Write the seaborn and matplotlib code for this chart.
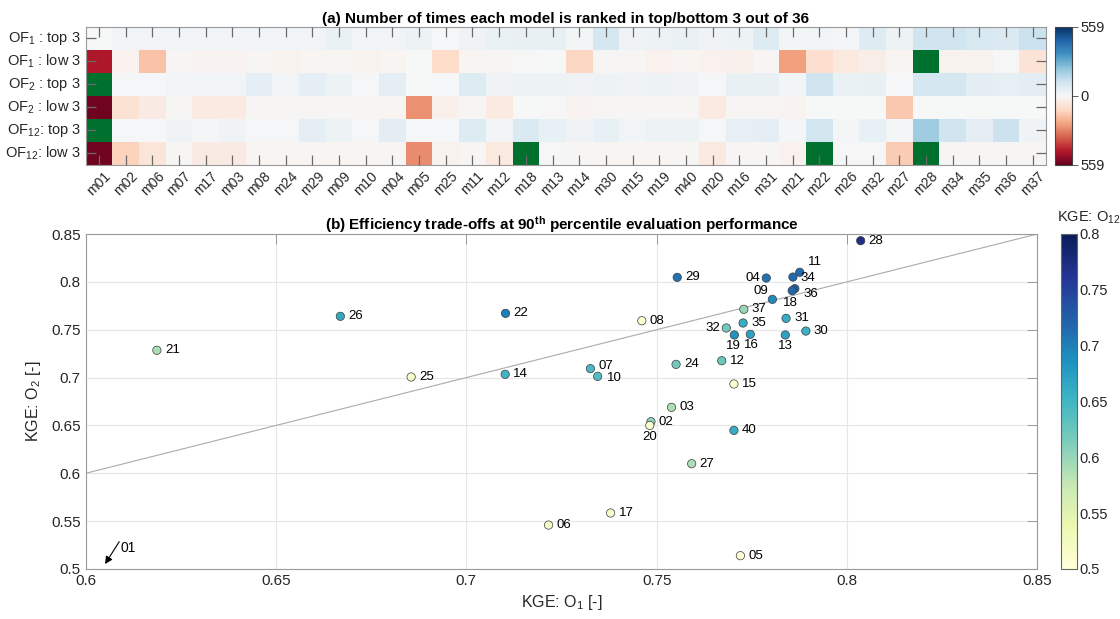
import numpy as np
import pandas as pd
import matplotlib
matplotlib.use("Agg")
import matplotlib.pyplot as plt
import seaborn as sns
from matplotlib.colors import Normalize
from matplotlib.cm import ScalarMappable
from matplotlib.ticker import FuncFormatter

# ---------------------------------------------------------------- data
models = ["m01", "m02", "m06", "m07", "m17", "m03", "m08", "m24", "m29", "m09",
          "m10", "m04", "m05", "m25", "m11", "m12", "m18", "m13", "m14", "m30",
          "m15", "m19", "m40", "m20", "m16", "m31", "m21", "m22", "m26", "m32",
          "m27", "m28", "m34", "m35", "m36", "m37"]

row_labels = [r"OF$_1$ : top 3", r"OF$_1$ : low 3",
              r"OF$_2$ : top 3", r"OF$_2$ : low 3",
              r"OF$_{12}$: top 3", r"OF$_{12}$: low 3"]

nan = np.nan
# counts of top-3 rankings (positive) and bottom-3 rankings (negative);
# NaN marks the highlighted cells
of1_top = [0, 20, 20, 20, 20, 20, 20, 20, 20, 35, 20, 20, 30, 5, 25, 35, 40, 40,
           15, 100, 25, 30, 35, 25, 30, 75, 15, 18, 10, 75, 30, 110, 110, 95, 85, 120]
of1_low = [-450, -25, -165, -5, -15, -15, -8, -20, -12, -12, -20, -12, 0, -105, -10,
           -5, -3, 0, -120, -5, -5, -22, -12, -22, -28, -5, -230, -95, -55, -35, -12,
           nan, -20, -20, -3, -75]
of2_top = [nan, 8, 8, 18, 18, 18, 55, 18, 55, 30, 8, 55, 0, 8, 75, 25, 30, 30, 25,
           30, 25, 30, 25, 8, 40, 42, 15, 110, 35, 42, 8, 100, 100, 60, 50, 60]
of2_low = [-545, -85, -45, -5, -50, -50, -8, -8, -8, -8, -12, -10, -255, -30, -5,
           -50, 0, -2, -15, -8, -8, -8, -5, -50, -5, -5, -15, 0, 0, 0, -150, 0, 0,
           0, 0, 0]
of12_top = [nan, 8, 8, 22, 12, 22, 8, 8, 55, 30, 8, 60, 5, 8, 75, 15, 85, 45, 25,
            45, 18, 30, 30, 8, 50, 55, 10, 105, 10, 45, 10, 200, 110, 55, 120, 22]
of12_low = [-545, -130, -70, -5, -48, -48, -12, -12, -10, -10, -12, -8, -265, -18,
            -5, -55, nan, -3, -8, -12, -12, -12, -8, -55, -8, -5, -22, nan, -3, -3,
            -140, nan, -5, -5, -5, -5]
rank_limit = 559

# efficiency trade-offs (KGE on O1, O2 and O12)
point_ids = ["21", "26", "22", "25", "14", "06", "07", "10", "24", "12", "15", "03",
             "02", "20", "40", "27", "17", "05", "29", "04", "34", "11", "36", "09",
             "18", "37", "31", "35", "32", "30", "19", "16", "13", "08", "28"]
kge_o1 = [0.6187, 0.6669, 0.7103, 0.6855, 0.7102, 0.7216, 0.7326, 0.7345, 0.7551,
          0.7671, 0.7703, 0.7539, 0.7485, 0.7482, 0.7703, 0.7592, 0.7379, 0.7720,
          0.7554, 0.7788, 0.7858, 0.7876, 0.7863, 0.7856, 0.7804, 0.7729, 0.7840,
          0.7727, 0.7683, 0.7892, 0.7704, 0.7746, 0.7838, 0.7461, 0.8036]
kge_o2 = [0.7285, 0.7640, 0.7671, 0.7006, 0.7034, 0.5459, 0.7093, 0.7013, 0.7138,
          0.7176, 0.6933, 0.6689, 0.6539, 0.6500, 0.6448, 0.6100, 0.5585, 0.5139,
          0.8047, 0.8040, 0.8050, 0.8100, 0.7929, 0.7908, 0.7817, 0.7713, 0.7619,
          0.7570, 0.7518, 0.7486, 0.7445, 0.7452, 0.7445, 0.7594, 0.8430]
kge_o12 = [0.59, 0.665, 0.70, 0.515, 0.65, 0.52, 0.645, 0.64, 0.62, 0.625, 0.51,
           0.59, 0.605, 0.51, 0.66, 0.59, 0.515, 0.505, 0.71, 0.71, 0.715, 0.715,
           0.728, 0.72, 0.69, 0.60, 0.66, 0.66, 0.62, 0.655, 0.685, 0.67, 0.67,
           0.505, 0.77]

# model 01 lies outside the plotted range: arrow tip / tail in data units
offscale_id = "01"
offscale_tip = (0.6051, 0.5052)
offscale_tail = (0.6088, 0.5285)

xlim = (0.6, 0.85)
ylim = (0.5, 0.85)
o12_range = (0.5, 0.8)

# label placement: (dx px, dy px, horizontal alignment)
label_offsets = {
    "04": (-6, 0, "right"), "09": (-24, 0, "right"), "32": (-6, 0, "right"),
    "19": (-1, -11, "center"), "16": (1, -11, "center"), "13": (0, -11, "center"),
    "20": (0, -12, "center"), "11": (8, 10, "left"), "34": (8, -1, "left"),
    "18": (11, -4, "left"), "36": (9, -5, "left"), "07": (8, 3, "left"),
    "10": (9, -2, "left"),
}

# ---------------------------------------------------------------- style
sns.set_theme(style="white")
plt.rcParams["font.family"] = ["Liberation Sans", "DejaVu Sans"]
plt.rcParams["mathtext.fontset"] = "custom"
plt.rcParams["mathtext.rm"] = "Liberation Sans"
plt.rcParams["mathtext.it"] = "Liberation Sans:italic"
plt.rcParams["mathtext.bf"] = "Liberation Sans:bold"
TXT = "#262626"
SPINE = "#9a9a9a"
GREEN = "#00702f"

W, H = 1120, 619
fig = plt.figure(figsize=(W / 100, H / 100), dpi=100)


def px_axes(x0, y0, x1, y1):
    return fig.add_axes([x0 / W, 1 - y1 / H, (x1 - x0) / W, (y1 - y0) / H])


ax_h = px_axes(85.7, 26.7, 1046, 165)
cax_h = px_axes(1055, 26.7, 1072, 165)
ax_s = px_axes(85.7, 234, 1037.3, 569)
cax_s = px_axes(1060.7, 234, 1077, 569)

# ---------------------------------------------------------------- (a) heatmap
rank = pd.DataFrame([of1_top, of1_low, of2_top, of2_low, of12_top, of12_low],
                    index=row_labels, columns=models)
ax_h.set_facecolor(GREEN)
sns.heatmap(rank, ax=ax_h, cmap="RdBu", vmin=-rank_limit, vmax=rank_limit,
            cbar_ax=cax_h, cbar_kws={"ticks": [-rank_limit, 0, rank_limit]})
ax_h.set_axisbelow(False)
for s in ax_h.spines.values():
    s.set_visible(True)
    s.set_color(SPINE)
    s.set_linewidth(0.8)
ax_h.tick_params(axis="both", which="major", direction="in", top=True,
                 right=True, bottom=True, left=True, length=7, width=0.9,
                 color="#6a6a6a", labelsize=10.5, labelcolor=TXT)
ax_h.tick_params(axis="x", pad=3)
ax_h.set_yticklabels(row_labels, rotation=0, fontsize=10.5, color=TXT)
ax_h.set_xticklabels(models, rotation=45, ha="center", va="top",
                     fontsize=10, color=TXT)
ax_h.set_xlabel("")
ax_h.set_ylabel("")
ax_h.set_title("(a) Number of times each model is ranked in top/bottom 3 out of 36",
               fontsize=11, fontweight="bold", color="black", pad=3)
cb_h = ax_h.collections[0].colorbar
cb_h.outline.set_visible(True)
cb_h.outline.set_linewidth(0.8)
cb_h.outline.set_edgecolor("#444444")
cb_h.set_ticklabels([str(rank_limit), "0", str(rank_limit)])
cax_h.tick_params(length=4, width=0.6, color="#444444", labelsize=10.5,
                  labelcolor=TXT, pad=2)

# ---------------------------------------------------------------- (b) scatter
eff = pd.DataFrame({"model": point_ids, "o1": kge_o1, "o2": kge_o2,
                    "o12": kge_o12})
ax_s.plot(xlim, xlim, color="#ababab", lw=0.8, zorder=1)
sns.scatterplot(data=eff, x="o1", y="o2", hue="o12", palette="YlGnBu",
                hue_norm=o12_range, s=36, edgecolor="#3c3c3c", linewidth=0.5,
                legend=False, ax=ax_s, zorder=3)
for mid, xv, yv in zip(eff["model"], eff["o1"], eff["o2"]):
    dx, dy, ha = label_offsets.get(mid, (8, 0, "left"))
    ax_s.annotate(mid, (xv, yv), xytext=(dx, dy), textcoords="offset pixels",
                  ha=ha, va="center", fontsize=9.5, color="black", zorder=4)

ax_s.annotate("", xy=offscale_tip, xytext=offscale_tail,
              arrowprops=dict(arrowstyle="-|>", color="black", lw=0.8,
                              mutation_scale=11, shrinkA=0, shrinkB=0))
ax_s.annotate(offscale_id, offscale_tail, xytext=(1, -6),
              textcoords="offset pixels", ha="left", va="center",
              fontsize=10, color="black")

ax_s.set_xlim(*xlim)
ax_s.set_ylim(*ylim)
ax_s.set_xticks(np.arange(0.6, 0.851, 0.05))
ax_s.set_yticks(np.arange(0.5, 0.851, 0.05))
fmt = FuncFormatter(lambda v, _: f"{v:.2f}".rstrip("0").rstrip("."))
ax_s.xaxis.set_major_formatter(fmt)
ax_s.yaxis.set_major_formatter(fmt)
ax_s.grid(True, color="#e6e6e6", lw=0.8, zorder=0)
ax_s.set_axisbelow(True)
for s in ax_s.spines.values():
    s.set_visible(True)
    s.set_color(SPINE)
    s.set_linewidth(0.8)
ax_s.tick_params(axis="both", direction="in", top=True, right=True, length=7,
                 width=0.6, color="#8c8c8c", labelsize=11, labelcolor=TXT)
ax_s.set_xlabel(r"KGE: O$_1$ [-]", fontsize=11.5, color=TXT, labelpad=4)
ax_s.set_ylabel(r"KGE: O$_2$ [-]", fontsize=11.5, color=TXT, labelpad=6)
ax_s.set_title(r"(b) Efficiency trade-offs at 90$^{\mathbf{th}}$ percentile "
               r"evaluation performance", fontsize=11, fontweight="bold",
               color="black", pad=3)

cb_s = fig.colorbar(ScalarMappable(norm=Normalize(*o12_range), cmap="YlGnBu"),
                    cax=cax_s, ticks=np.arange(0.5, 0.801, 0.05))
cb_s.ax.yaxis.set_major_formatter(fmt)
cb_s.outline.set_linewidth(0.8)
cb_s.outline.set_edgecolor("#666666")
cax_s.tick_params(direction="in", length=3, width=0.6, color="#666666",
                  labelsize=10.5, labelcolor=TXT, pad=2)
cax_s.text(-0.25, 1.025, r"KGE: O$_{12}$", transform=cax_s.transAxes,
           ha="left", va="bottom", fontsize=10.5, color=TXT)

fig.savefig("out.png", dpi=100)
